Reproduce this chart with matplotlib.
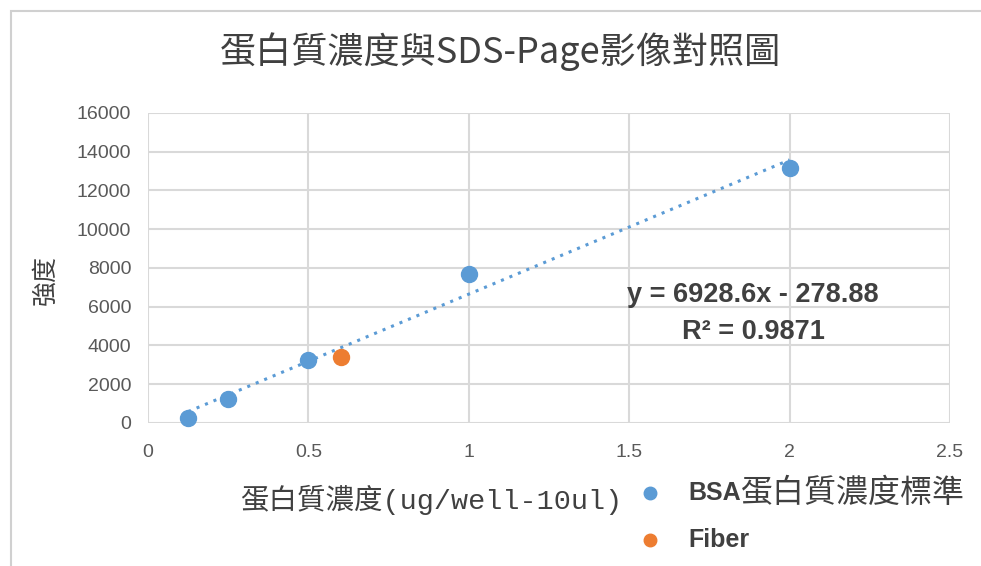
import matplotlib
matplotlib.use("Agg")
import matplotlib.pyplot as plt
from matplotlib.patches import Rectangle
import numpy as np

plt.rcParams['font.family'] = ['Noto Sans CJK TC', 'DejaVu Sans']

# BSA standard series
bsa_x = [0.125, 0.25, 0.5, 1.0, 2.0]
bsa_y = [260, 1240, 3250, 7700, 13160]
# sample
fiber_x = [0.6]
fiber_y = [3400]
# linear trendline y = a*x + b
slope = 6928.6
intercept = -278.88
r2 = 0.9871

x_ticks = [0, 0.5, 1, 1.5, 2, 2.5]
x_tick_labels = ['0', '0.5', '1', '1.5', '2', '2.5']
y_ticks = [0, 2000, 4000, 6000, 8000, 10000, 12000, 14000, 16000]

BLUE = '#5B9BD5'
ORANGE = '#ED7D31'
GRID = '#D9D9D9'
TXT = '#595959'
DARK = '#404040'
LATIN = ['Liberation Sans', 'DejaVu Sans']

fig = plt.figure(figsize=(9.81, 5.66), dpi=100)
fig.patches.append(Rectangle((11 / 981, -0.01), 1.02, 1 - 11 / 566 + 0.01,
                             transform=fig.transFigure, fill=False,
                             edgecolor='#D0D0D0', linewidth=1.5))

ax = fig.add_axes([0.1509, 0.2527, 0.8175, 0.5477])

ax.set_xlim(0, 2.5)
ax.set_ylim(0, 16000)
ax.set_xticks(x_ticks)
ax.set_xticklabels(x_tick_labels)
ax.set_yticks(y_ticks)
ax.grid(True, color=GRID, linewidth=1.5)
ax.set_axisbelow(True)
for s in ax.spines.values():
    s.set_visible(False)
ax.tick_params(length=0, labelsize=14, colors=TXT, pad=12)
ax.tick_params(axis='x', pad=15)
for lbl in ax.get_xticklabels() + ax.get_yticklabels():
    lbl.set_family(LATIN)

# trendline over the range of the standards
tx = np.array([bsa_x[0], bsa_x[-1]])
ax.plot(tx, slope * tx + intercept, color=BLUE, linestyle=(0, (1, 2)),
        linewidth=2.2, zorder=2)

ax.plot(bsa_x, bsa_y, 'o', color=BLUE, markersize=11.5, zorder=3,
        clip_on=False)
ax.plot(fiber_x, fiber_y, 'o', color=ORANGE, markersize=11.5, zorder=3,
        clip_on=False)

ax.text(1.886, 6600, 'y = %.1fx - %.2f' % (slope, -intercept), ha='center',
        va='center', fontsize=19.5, fontweight='bold', color=DARK,
        family=LATIN)
ax.text(1.886, 4700, 'R² = %.4f' % r2, ha='center', va='center',
        fontsize=19.5, fontweight='bold', color=DARK, family=LATIN)

fig.text(0.5097, 0.908, '蛋白質濃度與SDS-Page影像對照圖', ha='center',
         va='center', fontsize=26, color=DARK)
fig.text(0.046, 0.505, '強度', ha='center', va='center', rotation=90,
         fontsize=18, color=DARK)
fig.text(0.440, 0.1166, '蛋白質濃度(ug/well-10ul)', ha='center', va='center',
         fontsize=20.5, color=DARK, family=['Liberation Mono', 'Noto Sans CJK TC'])

# legend entries below the plot area
fig.lines.append(plt.Line2D([650 / 981], [1 - 493 / 566], marker='o',
                            color=BLUE, markersize=9, transform=fig.transFigure))
fig.lines.append(plt.Line2D([650 / 981], [1 - 540 / 566], marker='o',
                            color=ORANGE, markersize=9, transform=fig.transFigure))
t1 = fig.text(688 / 981, 1 - 493 / 566, 'BSA', ha='left', va='center',
              fontsize=18, fontweight='bold', color=DARK, family=LATIN)
fig.texts.append(plt.Annotation('蛋白質濃度標準', xy=(1, 0.5), xycoords=t1,
                                ha='left', va='center', fontsize=23,
                                color=DARK))
fig.texts[-1].set_figure(fig)
fig.text(688 / 981, 1 - 540 / 566, 'Fiber', ha='left', va='center',
         fontsize=18, fontweight='bold', color=DARK, family=LATIN)

fig.savefig('out.png', dpi=100)
